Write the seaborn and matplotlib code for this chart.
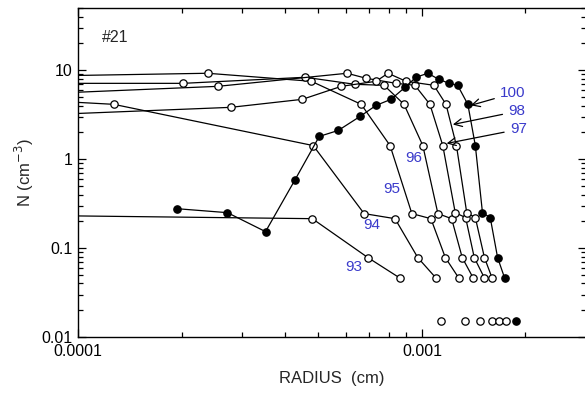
import matplotlib
matplotlib.use("Agg")
import matplotlib.pyplot as plt
import matplotlib.ticker as mticker
import seaborn as sns
import numpy as np

# size distributions N (cm^-3) vs radius (cm); first point of each lies left of the axis
r93 = [8e-5, 4.80e-4, 6.97e-4, 8.63e-4]
n93 = [0.232, 0.214, 0.078, 0.046]

r94 = [8e-5, 1.27e-4, 4.83e-4, 6.79e-4, 8.35e-4, 9.73e-4, 1.099e-3]
n94 = [4.55, 4.13, 1.42, 0.244, 0.214, 0.078, 0.046]

r95 = [8e-5, 2.38e-4, 4.77e-4, 6.66e-4, 8.08e-4, 9.35e-4, 1.062e-3, 1.17e-3, 1.28e-3]
n95 = [8.6, 9.23, 7.50, 4.13, 1.42, 0.244, 0.214, 0.078, 0.046]

r96 = [8e-5, 2.02e-4, 4.58e-4, 6.39e-4, 7.76e-4, 8.87e-4, 1.006e-3, 1.113e-3, 1.22e-3, 1.31e-3, 1.41e-3]
n96 = [7.11, 7.11, 8.32, 6.93, 6.76, 4.13, 1.42, 0.244, 0.214, 0.078, 0.046]

r97 = [8e-5, 2.55e-4, 6.06e-4, 6.88e-4, 8.41e-4, 9.54e-4, 1.055e-3, 1.15e-3, 1.25e-3, 1.34e-3, 1.42e-3, 1.52e-3]
n97 = [5.45, 6.58, 9.23, 8.11, 7.11, 6.76, 4.13, 1.42, 0.250, 0.220, 0.078, 0.046]

r98 = [8e-5, 2.78e-4, 4.49e-4, 5.83e-4, 7.36e-4, 7.97e-4, 8.99e-4, 1.083e-3, 1.175e-3, 1.26e-3, 1.35e-3, 1.43e-3, 1.52e-3, 1.60e-3]
n98 = [3.15, 3.82, 4.70, 6.58, 7.50, 9.23, 7.50, 6.76, 4.13, 1.42, 0.250, 0.220, 0.078, 0.046]

r100 = [1.94e-4, 2.72e-4, 3.51e-4, 4.28e-4, 5.03e-4, 5.71e-4, 6.61e-4, 7.36e-4, 8.13e-4, 8.93e-4,
        9.61e-4, 1.04e-3, 1.12e-3, 1.20e-3, 1.27e-3, 1.36e-3, 1.43e-3, 1.50e-3, 1.58e-3, 1.66e-3, 1.74e-3]
n100 = [0.277, 0.250, 0.153, 0.589, 1.80, 2.10, 3.02, 4.02, 4.70, 6.41,
        8.32, 9.23, 7.89, 7.11, 6.76, 4.13, 1.42, 0.250, 0.220, 0.078, 0.046]

# isolated points along the bottom
r_tail_open = [1.14e-3, 1.33e-3, 1.48e-3, 1.60e-3, 1.68e-3, 1.76e-3]
r_tail_filled = [1.88e-3]
n_tail = 0.015

open_curves = [(r93, n93), (r94, n94), (r95, n95), (r96, n96), (r97, n97), (r98, n98)]

# curve labels
labels = ["93", "94", "95", "96"]
label_r = [6.35e-4, 7.16e-4, 8.19e-4, 9.47e-4]
label_n = [0.0615, 0.183, 0.466, 1.016]

arrow_labels = ["100", "98", "97"]
arrow_text_r = [1.84e-3, 1.89e-3, 1.91e-3]
arrow_text_n = [5.49, 3.44, 2.16]
arrow_tip_r = [1.387e-3, 1.23e-3, 1.18e-3]
arrow_tip_n = [4.02, 2.45, 1.50]

sns.set_theme(style="ticks")
plt.rcParams["font.family"] = ["Liberation Sans", "DejaVu Sans"]

fig = plt.figure(figsize=(5.85, 3.94), dpi=100)
ax = fig.add_axes([78 / 585, 57 / 394, 508 / 585, 329 / 394])
ax.set_xscale("log")
ax.set_yscale("log")

mk = dict(marker="o", markersize=5.3, markeredgewidth=0.9, markeredgecolor="black")
for r, n in open_curves:
    sns.lineplot(x=r, y=n, ax=ax, color="black", linewidth=0.9, sort=False,
                 estimator=None, markerfacecolor="white", **mk)
sns.lineplot(x=r100, y=n100, ax=ax, color="black", linewidth=0.9, sort=False,
             estimator=None, markerfacecolor="black", **mk)

ax.plot(r_tail_open, [n_tail] * len(r_tail_open), linestyle="none",
        markerfacecolor="white", **mk)
ax.plot(r_tail_filled, [n_tail] * len(r_tail_filled), linestyle="none",
        markerfacecolor="black", **mk)

blue = "#3a3acb"
for t, x, y in zip(labels, label_r, label_n):
    ax.text(x, y, t, color=blue, fontsize=11, ha="center", va="center")
for t, xt, yt, xa, ya in zip(arrow_labels, arrow_text_r, arrow_text_n, arrow_tip_r, arrow_tip_n):
    ax.annotate(t, xy=(xa, ya), xytext=(xt, yt), color=blue, fontsize=11,
                ha="center", va="center",
                arrowprops=dict(arrowstyle="->", color="black", lw=0.9,
                                mutation_scale=14, shrinkA=2, shrinkB=0))

ax.text(0.048, 0.91, "#21", transform=ax.transAxes, fontsize=11.5, ha="left", va="center")

ax.set_xlim(1e-4, 3e-3)
ax.set_ylim(0.01, 50)

ax.xaxis.set_major_locator(mticker.FixedLocator([1e-4, 1e-3]))
ax.xaxis.set_major_formatter(mticker.FixedFormatter(["0.0001", "0.001"]))
ax.xaxis.set_minor_locator(mticker.FixedLocator([k * 1e-4 for k in range(2, 10)] + [2e-3]))
ax.xaxis.set_minor_formatter(mticker.NullFormatter())
ax.yaxis.set_major_locator(mticker.FixedLocator([0.01, 0.1, 1, 10]))
ax.yaxis.set_major_formatter(mticker.FixedFormatter(["0.01", "0.1", "1", "10"]))
ax.yaxis.set_minor_locator(mticker.LogLocator(base=10, subs=np.arange(2, 10), numticks=20))
ax.yaxis.set_minor_formatter(mticker.NullFormatter())

ax.tick_params(which="both", direction="in", top=True, right=True, colors="black",
               labelsize=11.5, width=0.9)
ax.tick_params(which="major", length=6, pad=4)
ax.tick_params(axis="x", which="major", pad=5)
ax.tick_params(which="minor", length=3.5)
for s in ax.spines.values():
    s.set_linewidth(1.0)
    s.set_color("black")

ax.set_xlabel("RADIUS  (cm)", fontsize=12, labelpad=9)
ax.set_ylabel("N (cm$^{-3}$)", fontsize=12, labelpad=4)

fig.savefig("out.png", dpi=100)
